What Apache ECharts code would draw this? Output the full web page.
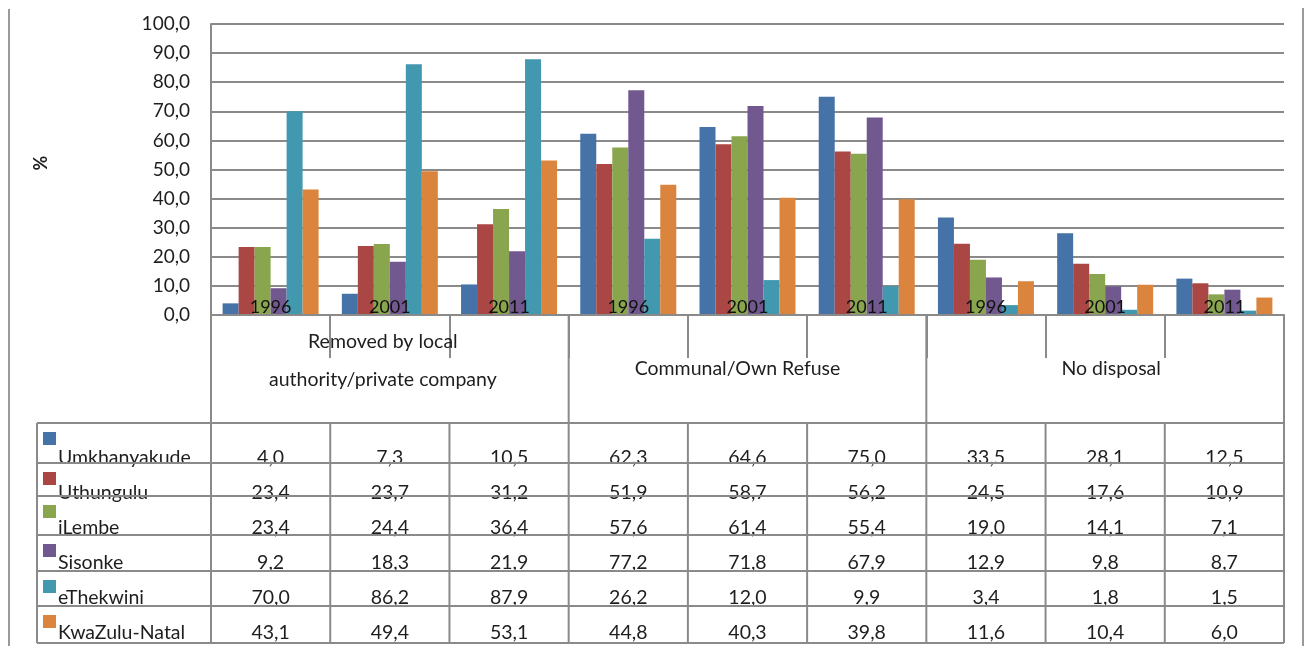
<!DOCTYPE html>
<html>
<head>
<meta charset="utf-8">
<script src="https://cdn.jsdelivr.net/npm/echarts@6/dist/echarts.min.js"></script>
<style>
  html, body { margin: 0; padding: 0; background: #ffffff; }
  #chart { width: 1307px; height: 646px; }
</style>
</head>
<body>
<div id="chart"></div>
<script>
// Refuse disposal by district, share of households (%)
const groupNames = ['Removed by local\nauthority/private company', 'Communal/Own Refuse', 'No disposal'];
const years = ['1996', '2001', '2011'];
const yTickLabels = ['0,0', '10,0', '20,0', '30,0', '40,0', '50,0', '60,0', '70,0', '80,0', '90,0', '100,0'];

const seriesNames = ['Umkhanyakude', 'Uthungulu', 'iLembe', 'Sisonke', 'eThekwini', 'KwaZulu-Natal'];
const umkhanyakude = [4.0, 7.3, 10.5, 62.3, 64.6, 75.0, 33.5, 28.1, 12.5];
const uthungulu    = [23.4, 23.7, 31.2, 51.9, 58.7, 56.2, 24.5, 17.6, 10.9];
const ilembe       = [23.4, 24.4, 36.4, 57.6, 61.4, 55.4, 19.0, 14.1, 7.1];
const sisonke      = [9.2, 18.3, 21.9, 77.2, 71.8, 67.9, 12.9, 9.8, 8.7];
const ethekwini    = [70.0, 86.2, 87.9, 26.2, 12.0, 9.9, 3.4, 1.8, 1.5];
const kwazuluNatal = [43.1, 49.4, 53.1, 44.8, 40.3, 39.8, 11.6, 10.4, 6.0];

const seriesValues = [umkhanyakude, uthungulu, ilembe, sisonke, ethekwini, kwazuluNatal];
const colors = ['#4572A7', '#AA4643', '#89A54E', '#71588F', '#4198AF', '#DB843D'];

const FONT = 'Lato, "Open Sans", sans-serif';
const TEXT = '#1e1e1e';
const LINE = '#8a8a8a';

// one category per (group, year) pair
const categories = [];
groupNames.forEach(() => years.forEach(y => categories.push(y)));

const fmt = v => v.toFixed(1).replace('.', ',');

const chart = echarts.init(document.getElementById('chart'), null, { renderer: 'canvas' });

chart.setOption({
  animation: false,
  backgroundColor: '#ffffff',
  color: colors,
  grid: { left: 211, right: 23, top: 24, bottom: 331, containLabel: false },
  xAxis: {
    type: 'category',
    data: categories,
    z: 5,
    axisLine: { show: true, lineStyle: { color: LINE, width: 2 } },
    axisTick: { show: true, interval: 0, length: 43, lineStyle: { color: LINE, width: 2 } },
    axisLabel: {
      interval: 0, margin: -17, color: '#111', fontFamily: FONT, fontSize: 18
    },
    splitLine: { show: false }
  },
  yAxis: {
    type: 'value',
    min: 0, max: 100, interval: 10,
    axisLine: { show: true, lineStyle: { color: LINE, width: 2 } },
    axisTick: { show: false },
    axisLabel: {
      margin: 21, color: TEXT, fontFamily: FONT, fontSize: 19,
      formatter: v => yTickLabels[Math.round(v / 10)]
    },
    splitLine: { show: true, lineStyle: { color: LINE, width: 2 } }
  },
  series: seriesNames.map((name, i) => ({
    name: name,
    type: 'bar',
    data: seriesValues[i],
    barWidth: 16,
    barGap: '0%',
    itemStyle: { color: colors[i] }
  }))
});

// Data table and category header drawn below the plot, aligned to the axis bands
function buildTable() {
  const c0 = chart.convertToPixel({ xAxisIndex: 0 }, 0);
  const c1 = chart.convertToPixel({ xAxisIndex: 0 }, 1);
  const bw = c1 - c0;
  const x0 = c0 - bw / 2;
  const n = categories.length;
  const xEnd = x0 + n * bw;
  const baseY = chart.convertToPixel({ yAxisIndex: 0 }, 0);
  const headBottom = 423;
  const tableBottom = 643;
  const tableLeft = 37;
  // row separators of the data table (top edge first)
  const rowLines = [headBottom, 463, 496, 535, 571, 606, tableBottom];
  const firstTextY = 458, textStep = 35;
  const els = [];
  const line = (x1, y1, x2, y2, col, w) => els.push({
    type: 'line', silent: true, z: 10,
    shape: { x1, y1, x2, y2 },
    style: { stroke: col || LINE, lineWidth: w || 2 }
  });

  // outer frame sides
  line(9, 9, 9, 646, '#9a9a9a', 2);
  line(1303, 8, 1303, 646, '#9a9a9a', 2);

  // group boundaries through the header row
  for (let g = 0; g <= groupNames.length; g++) {
    const x = x0 + g * years.length * bw;
    line(x, baseY, x, headBottom);
  }
  // group names
  const nameShift = [-7, -10, 6];
  groupNames.forEach((name, g) => {
    const cx = x0 + (g + 0.5) * years.length * bw + nameShift[g];
    const multi = name.indexOf('\n') >= 0;
    els.push({
      type: 'text', silent: true, z: 11,
      style: {
        text: name, x: cx, y: (baseY + headBottom) / 2 - (multi ? 8 : 0),
        textAlign: 'center', textVerticalAlign: 'middle',
        font: '19.5px ' + FONT, fill: TEXT, lineHeight: 38
      }
    });
  });

  // table grid
  rowLines.forEach(y => line(tableLeft, y, xEnd, y));
  line(tableLeft, headBottom, tableLeft, tableBottom);
  for (let i = 0; i <= n; i++) {
    const x = x0 + i * bw;
    line(x, headBottom, x, tableBottom);
  }

  // legend keys, names and values
  seriesNames.forEach((name, r) => {
    const textY = firstTextY + r * textStep;
    els.push({
      type: 'rect', silent: true, z: 9,
      shape: { x: 43, y: rowLines[r] + 9, width: 13, height: 13 },
      style: { fill: colors[r] }
    });
    els.push({
      type: 'text', silent: true, z: 9,
      style: {
        text: name, x: 58, y: textY,
        textAlign: 'left', textVerticalAlign: 'middle',
        font: '19.5px ' + FONT, fill: TEXT
      }
    });
    seriesValues[r].forEach((v, i) => {
      els.push({
        type: 'text', silent: true, z: 9,
        style: {
          text: fmt(v), x: x0 + (i + 0.5) * bw, y: textY,
          textAlign: 'center', textVerticalAlign: 'middle',
          font: '19.5px ' + FONT, fill: TEXT
        }
      });
    });
  });

  // axis title
  els.push({
    type: 'text', silent: true, z: 11,
    x: 41, y: 163, rotation: Math.PI / 2,
    style: {
      text: '%', x: 0, y: 0, textAlign: 'center', textVerticalAlign: 'middle',
      font: 'bold 18px ' + FONT, fill: TEXT
    }
  });

  chart.setOption({ graphic: els });
}
buildTable();
</script>
</body>
</html>
